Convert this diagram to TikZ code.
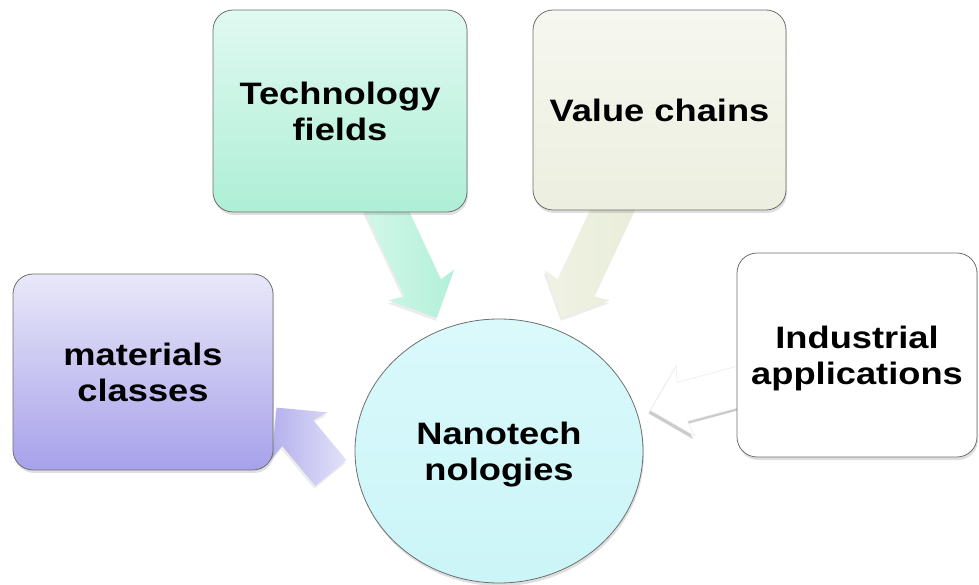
\documentclass[tikz,border=0pt]{standalone}
\usepackage{fontspec}
\newfontfamily\boxfont{Liberation Sans}[FakeStretch=1.17]
\usetikzlibrary{shapes.geometric,shapes.arrows,shadows,calc,backgrounds}
\definecolor{boxline}{HTML}{6E6E6E}
\definecolor{techtop}{HTML}{E0F9F1}
\definecolor{techbot}{HTML}{AEEFD6}
\definecolor{valtop}{HTML}{F6F7F0}
\definecolor{valbot}{HTML}{ECEFDF}
\definecolor{mattop}{HTML}{E9E8F9}
\definecolor{matbot}{HTML}{A7A1EA}
\definecolor{nanotop}{HTML}{DAF9FB}
\definecolor{nanobot}{HTML}{CBF5F8}
\definecolor{techtail}{HTML}{D4F7EA}
\definecolor{techtip}{HTML}{B3F1D9}
\definecolor{valtail}{HTML}{F0F2E4}
\definecolor{valtip}{HTML}{E8EDD8}
\definecolor{mattail}{HTML}{B4B0ED}
\definecolor{mattip}{HTML}{E3E2F8}
\begin{document}
\begin{tikzpicture}[x=1pt,y=-1pt,
    box/.style={draw=boxline, line width=.8pt, rounded corners=20pt, align=center,
        font=\boxfont\bfseries\fontsize{31}{36}\selectfont,
        drop shadow={opacity=.25, shadow xshift=1pt, shadow yshift=-3pt}},
    blockarrow/.style={single arrow, minimum height=#1, inner xsep=0pt, inner ysep=20pt,
        single arrow head extend=16pt, single arrow head indent=3pt, anchor=tip,
        drop shadow={opacity=.15, shadow xshift=-1pt, shadow yshift=-3pt}}]
    \useasboundingbox (0,0) rectangle (979,585);

    \node[box, shape=ellipse, minimum width=288pt, minimum height=264pt, inner sep=0pt, text depth=0pt, top color=nanotop, bottom color=nanobot] (NT) at (499,451) {Nanotech\\nologies};
    \node[box, minimum width=254pt, minimum height=202pt, top color=techtop, bottom color=techbot] (TF) at (340,111) {Technology\\fields};
    \node[box, minimum width=253pt, minimum height=200pt, top color=valtop, bottom color=valbot] (VC) at (659.5,110) {Value chains};
    \node[box, minimum width=260pt, minimum height=196pt, top color=mattop, bottom color=matbot] (MC) at (143,372) {materials\\classes};
    \node[box, minimum width=240pt, minimum height=204pt, text depth=0pt, fill=white] (IA) at (857,355) {Industrial\\applications};

    \begin{scope}[on background layer]
        \path let \p1=($(NT)-(TF)$) in node[blockarrow=150pt, left color=techtail, right color=techtip, rotate={atan2(\y1,\x1)}] (TA) at ($(TF)!.609!(NT)$) {};
        \path let \p1=($(NT)-(VC)$) in node[blockarrow=150pt, left color=valtail, right color=valtip, rotate={atan2(\y1,\x1)}] (VA) at ($(VC)!.61!(NT)$) {};
        \path let \p1=($(NT)-(IA)$) in node[blockarrow=130pt, fill=white, draw=black!10, line width=.4pt, rotate={atan2(\y1,\x1)},
            drop shadow={opacity=.3, shadow xshift=-2pt, shadow yshift=-3pt}] (IN) at ($(IA)!.578!(NT)$) {};
        \node[blockarrow=85pt, left color=mattail, right color=mattip, rotate=129.7] (MA) at ($(MC.south east)+(3,-63)$) {};
    \end{scope}
\end{tikzpicture}
\end{document}
